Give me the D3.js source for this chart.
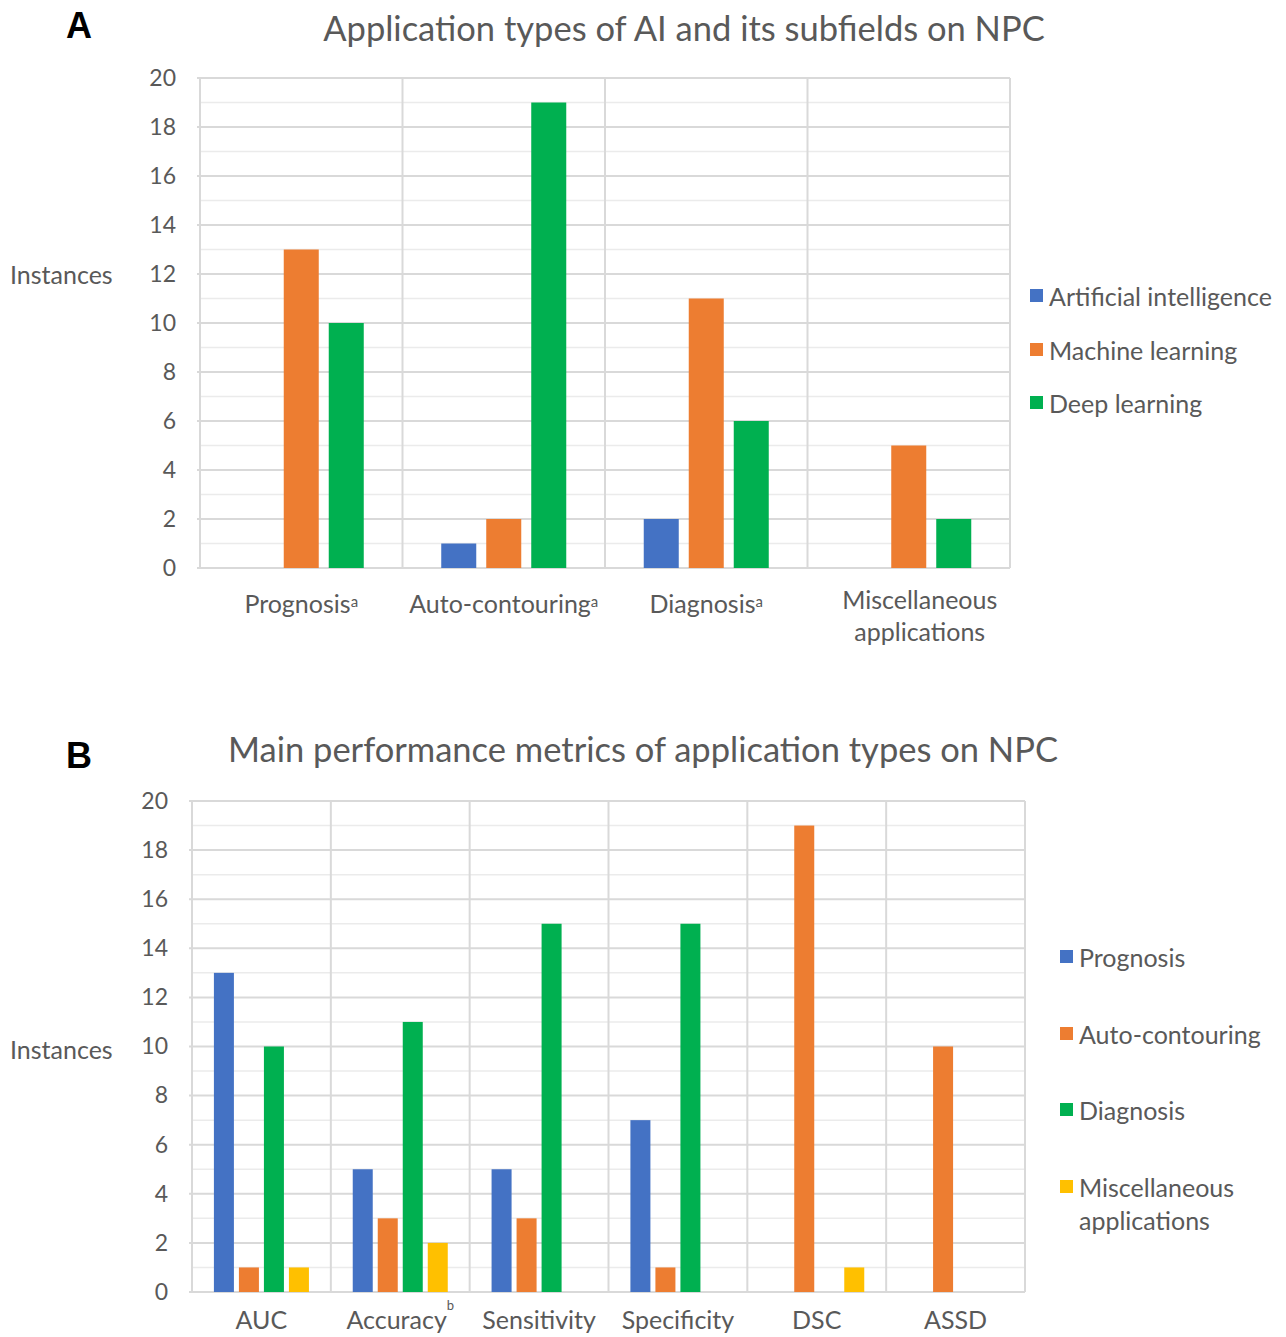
<!DOCTYPE html>
<html>
<head>
<meta charset="utf-8">
<script src="https://cdn.jsdelivr.net/npm/d3@7"></script>
<style>
  body { margin: 0; background: #fff; }
  text { font-family: Lato, "Noto Sans", sans-serif; }
</style>
</head>
<body>
<div id="chart"></div>
<script>
// ---- panel A data ----
let typeCats = ["Prognosis", "Auto-contouring", "Diagnosis", "Miscellaneous applications"];
let typeSup = ["a", "a", "a", ""];
let typeSeries = ["Artificial intelligence", "Machine learning", "Deep learning"];
let aiVals = [0, 1, 2, 0];
let mlVals = [13, 2, 11, 5];
let dlVals = [10, 19, 6, 2];

// ---- panel B data ----
let metricCats = ["AUC", "Accuracy", "Sensitivity", "Specificity", "DSC", "ASSD"];
let metricSup = ["", "b", "", "", "", ""];
let metricSeries = ["Prognosis", "Auto-contouring", "Diagnosis", "Miscellaneous applications"];
let progVals = [13, 5, 5, 7, 0, 0];
let autoVals = [1, 3, 3, 1, 19, 10];
let diagVals = [10, 11, 15, 15, 0, 0];
let miscVals = [1, 2, 0, 0, 1, 0];

let yTicks = [0, 2, 4, 6, 8, 10, 12, 14, 16, 18, 20];

const colors = ["#4472C4", "#ED7D31", "#00B050", "#FFC000"];
const grey = "#595959";

svg = d3.select("#chart").append("svg").attr("width", 1286).attr("height", 1337);

function drawPanel(p) {
  var g = svg.append("g");
  var y = d3.scaleLinear().domain([0, 20]).range([p.bottom, p.top]);
  var x0 = d3.scaleBand().domain(p.cats).range([p.left, p.right]);
  var x1 = d3.scaleBand().domain(d3.range(p.series.length))
      .range([0, x0.bandwidth()]).paddingInner(p.pin).paddingOuter(p.pout);

  // minor grid
  g.selectAll(".minor").data(d3.range(1, 20, 2)).enter().append("line")
    .attr("x1", p.left).attr("x2", p.right)
    .attr("y1", d => y(d)).attr("y2", d => y(d))
    .attr("stroke", "#ebebeb").attr("stroke-width", 1.5);
  // major grid
  g.selectAll(".major").data(yTicks).enter().append("line")
    .attr("x1", p.left - 3).attr("x2", p.right)
    .attr("y1", d => y(d)).attr("y2", d => y(d))
    .attr("stroke", "#d9d9d9").attr("stroke-width", 2);
  // vertical separators
  g.selectAll(".vsep").data(p.cats.concat(["end"])).enter().append("line")
    .attr("x1", (d, i) => p.left + i * x0.step()).attr("x2", (d, i) => p.left + i * x0.step())
    .attr("y1", p.top).attr("y2", p.bottom)
    .attr("stroke", "#d9d9d9").attr("stroke-width", 2);

  // bars
  p.values.forEach(function (vals, si) {
    g.selectAll(".bar" + si).data(vals).enter().append("rect")
      .attr("x", (d, i) => x0(p.cats[i]) + x1(si))
      .attr("width", x1.bandwidth())
      .attr("y", d => y(d))
      .attr("height", d => y(0) - y(d))
      .attr("fill", colors[si]);
  });

  // y tick labels
  var yAxis = d3.axisLeft(y).tickValues(yTicks).tickSize(0).tickPadding(0);
  var ax = g.append("g").attr("transform", "translate(" + (p.left - 24) + ",0)").call(yAxis);
  ax.select(".domain").remove();
  ax.selectAll("text").attr("font-size", "23px").attr("fill", grey)
    .style("font-family", "Lato, 'Noto Sans', sans-serif");

  // y title
  g.append("text").attr("x", 10).attr("y", p.yTitleY).text("Instances")
    .attr("font-size", "25px").attr("fill", grey);

  // x labels
  p.cats.forEach(function (c, i) {
    var cx = x0(c) + x0.bandwidth() / 2 + (p.labelShift[i] || 0);
    var words = p.wrap[i] ? p.wrap[i] : [c];
    var ly = p.wrap[i] ? p.labelY - 4 : p.labelY;
    words.forEach(function (w, wi) {
      var t = g.append("text").attr("x", cx).attr("y", ly + wi * 32)
        .attr("text-anchor", "middle").attr("font-size", "25px").attr("fill", grey);
      t.append("tspan").text(w);
      if (p.sup[i] && wi == words.length - 1) {
        t.append("tspan").text(p.sup[i]).attr("font-size", p.supSize).attr("dy", p.supDy);
      }
    });
  });

  // title
  g.append("text").attr("x", p.titleX).attr("y", p.titleY).attr("text-anchor", "middle")
    .attr("font-size", "34.5px").attr("fill", grey).text(p.title);

  // panel letter
  g.append("text").attr("x", 66).attr("y", p.letterY).text(p.letter)
    .attr("font-size", "36px").attr("font-weight", "bold").attr("fill", "#000")
    .style("font-family", "'Liberation Sans', Arial, sans-serif");

  // legend
  p.series.forEach(function (s, si) {
    var ly = p.legY[si];
    g.append("rect").attr("x", p.legX).attr("y", ly - 8).attr("width", 13).attr("height", 13)
      .attr("fill", colors[si]);
    var lines = p.legWrap[si] ? p.legWrap[si] : [s];
    lines.forEach(function (l, li) {
      g.append("text").attr("x", p.legX + 19).attr("y", ly + 9 + li * 33).text(l)
        .attr("font-size", "25px").attr("fill", grey);
    });
  });
}

drawPanel({
  letter: "A", letterY: 38,
  title: "Application types of AI and its subfields on NPC", titleX: 684, titleY: 41,
  cats: typeCats, sup: typeSup, series: typeSeries,
  values: [aiVals, mlVals, dlVals],
  left: 200, right: 1010, top: 78, bottom: 568,
  pin: 0.222, pout: 0.861,
  yTitleY: 284, labelY: 613, supDy: -6, supSize: "15px",
  wrap: [null, null, null, ["Miscellaneous", "applications"]],
  labelShift: [0, 0, 0, 11],
  legX: 1030, legY: [297, 351, 404], legWrap: []
});

drawPanel({
  letter: "B", letterY: 768,
  title: "Main performance metrics of application types on NPC", titleX: 643, titleY: 762,
  cats: metricCats, sup: metricSup, series: metricSeries,
  values: [progVals, autoVals, diagVals, miscVals],
  left: 192, right: 1025, top: 801, bottom: 1292,
  pin: 0.2, pout: 0.876,
  yTitleY: 1059, labelY: 1329, supDy: -19, supSize: "13px",
  wrap: [], labelShift: [0, 0, 0, 0, 0, 0],
  legX: 1060, legY: [958, 1035, 1111, 1188], legWrap: [null, null, null, ["Miscellaneous", "applications"]]
});
</script>
</body>
</html>
